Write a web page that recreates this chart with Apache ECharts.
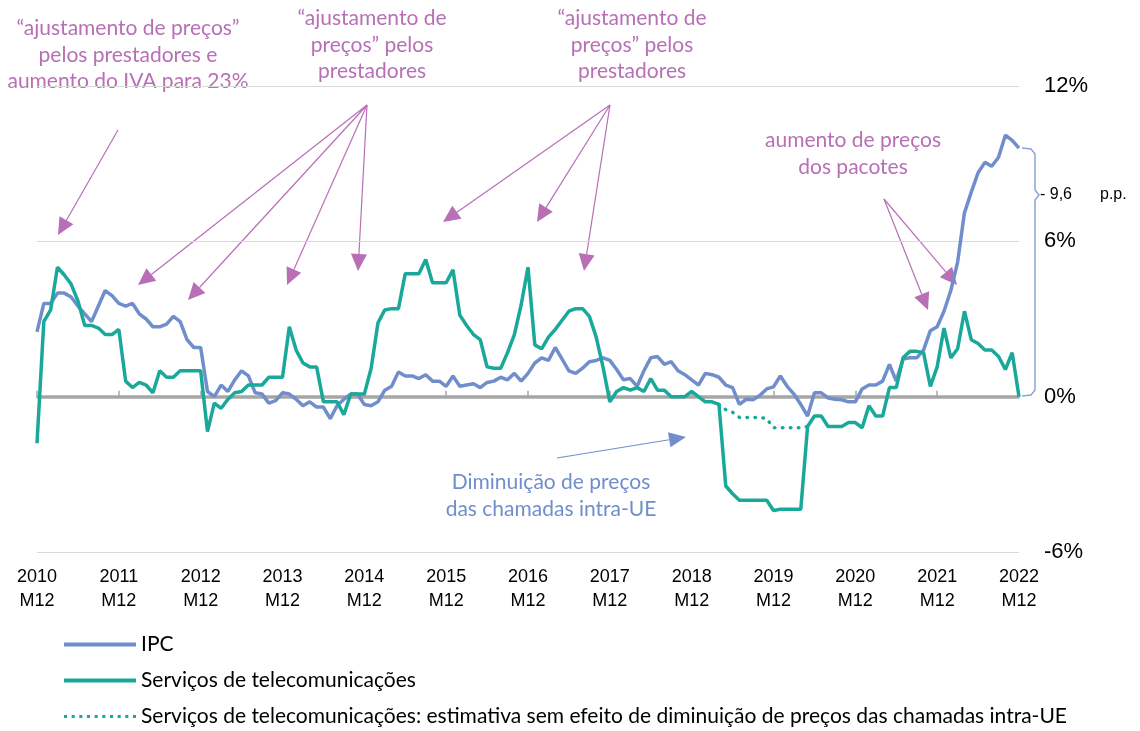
<!DOCTYPE html>
<html>
<head>
<meta charset="utf-8">
<script src="https://cdn.jsdelivr.net/npm/echarts@6.0.0/dist/echarts.min.js"></script>
<style>
  html, body { margin: 0; padding: 0; background: #fff; }
  #main { width: 1140px; height: 731px; }
</style>
</head>
<body>
<div id="main"></div>
<script>
// meses: 2010 M12 .. 2022 M12
var categories = [];
for (var y = 2010; y <= 2022; y++) {
  for (var m = 1; m <= 12; m++) {
    if (y === 2010 && m < 12) continue;
    categories.push(y + ' M' + (m < 10 ? '0' + m : m));
  }
}

// taxa de variação homóloga (%)
var ipc = [
  2.5, 3.6, 3.6, 4.0, 4.0, 3.85, 3.5, 3.2, 2.9, 3.5, 4.1, 3.9,
  3.6, 3.5, 3.6, 3.2, 3.0, 2.7, 2.7, 2.8, 3.1, 2.9, 2.2, 1.9,
  1.9, 0.2, 0.0, 0.45, 0.2, 0.65, 1.0, 0.8, 0.15, 0.1, -0.25, -0.15,
  0.15, 0.1, -0.1, -0.35, -0.2, -0.4, -0.4, -0.85, -0.35, -0.1, 0.1, 0.1,
  -0.3, -0.35, -0.2, 0.25, 0.4, 0.95, 0.8, 0.8, 0.7, 0.85, 0.6, 0.6,
  0.4, 0.8, 0.4, 0.45, 0.5, 0.35, 0.55, 0.6, 0.75, 0.65, 0.9, 0.6,
  0.9, 1.3, 1.5, 1.4, 1.9, 1.45, 1.0, 0.9, 1.1, 1.35, 1.4, 1.5,
  1.4, 1.05, 0.65, 0.7, 0.4, 1.0, 1.5, 1.55, 1.25, 1.35, 1.0, 0.85,
  0.65, 0.45, 0.9, 0.85, 0.75, 0.45, 0.35, -0.3, -0.1, -0.12, 0.05, 0.3,
  0.38, 0.8, 0.4, 0.1, -0.3, -0.75, 0.15, 0.15, -0.05, -0.1, -0.12, -0.2,
  -0.2, 0.3, 0.45, 0.45, 0.6, 1.25, 0.6, 1.45, 1.5, 1.5, 1.8, 2.55,
  2.7, 3.3, 4.1, 5.2, 7.1, 7.9, 8.65, 9.05, 8.9, 9.25, 10.1, 9.9, 9.6
];

var telecom = [
  -1.8, 2.9, 3.35, 5.0, 4.7, 4.35, 3.7, 2.75, 2.75, 2.65, 2.4, 2.4,
  2.6, 0.6, 0.35, 0.55, 0.45, 0.15, 1.0, 0.75, 0.75, 1.0, 1.0, 1.0,
  1.0, -1.35, -0.25, -0.45, -0.1, 0.15, 0.2, 0.45, 0.45, 0.45, 0.75, 0.75,
  0.75, 2.7, 1.8, 1.3, 1.15, 1.15, -0.2, -0.2, -0.2, -0.7, 0.1, 0.1,
  0.1, 1.1, 2.85, 3.35, 3.4, 3.4, 4.75, 4.75, 4.75, 5.3, 4.4, 4.4,
  4.4, 4.9, 3.15, 2.75, 2.4, 2.2, 1.15, 1.1, 1.1, 1.7, 2.4, 3.55,
  5.0, 2.0, 1.85, 2.3, 2.6, 2.95, 3.3, 3.4, 3.4, 3.1, 2.3, 1.15,
  -0.2, 0.2, 0.35, 0.25, 0.35, 0.2, 0.7, 0.25, 0.25, 0.0, 0.0, 0.0,
  0.2, 0.0, -0.2, -0.2, -0.3, -3.45, -3.75, -4.0, -4.0, -4.0, -4.0, -4.0,
  -4.4, -4.35, -4.35, -4.35, -4.35, -1.15, -0.75, -0.75, -1.15, -1.15, -1.15, -1.0,
  -1.0, -1.2, -0.35, -0.75, -0.75, 0.35, 0.35, 1.5, 1.75, 1.75, 1.7, 0.4,
  1.15, 2.65, 1.5, 1.85, 3.3, 2.2, 2.05, 1.8, 1.8, 1.55, 1.05, 1.7, 0.0
];

// estimativa sem efeito intra-UE: 2019 M04 .. 2020 M05
var estimStart = 100;
var estimValues = [-0.3, -0.5, -0.6, -0.8, -0.8, -0.8, -0.8, -0.85, -1.2, -1.2, -1.2, -1.2, -1.2, -1.15];

var yTicks = [-6, 0, 6, 12];

var names = [
  'IPC',
  'Serviços de telecomunicações',
  'Serviços de telecomunicações: estimativa sem efeito de diminuição de preços das chamadas intra-UE'
];

var estim = categories.map(function () { return null; });
for (var k = 0; k < estimValues.length; k++) {
  estim[estimStart + k] = estimValues[k];
}

var BLUE = '#6f8ecb';
var TEAL = '#19a89a';
var PURPLE = '#b86fb6';

var chart = echarts.init(document.getElementById('main'));

// seta simples (linha + ponta triangular)
function arrow(x1, y1, x2, y2, color, len, half) {
  var a = Math.atan2(y2 - y1, x2 - x1);
  var bx = x2 - len * Math.cos(a), by = y2 - len * Math.sin(a);
  var px = -Math.sin(a) * half, py = Math.cos(a) * half;
  return [
    { type: 'line', silent: true, shape: { x1: x1, y1: y1, x2: bx, y2: by },
      style: { stroke: color, lineWidth: 1.2 } },
    { type: 'polygon', silent: true, shape: { points: [[x2, y2], [bx + px, by + py], [bx - px, by - py]] },
      style: { fill: color } }
  ];
}

function label(text, x, y, color) {
  return {
    type: 'text', silent: true,
    style: {
      text: text, x: x, y: y, textAlign: 'center', textVerticalAlign: 'top',
      fill: color, font: '21px Lato', lineHeight: 26.5
    }
  };
}

// icone pontilhado da legenda
var dotIcon = 'path://';
for (var d = 0; d < 10; d++) {
  dotIcon += 'M' + (d * 7.5) + ',0h3v3h-3z';
}

var graphics = [
  label('“ajustamento de preços”\npelos prestadores e\naumento do IVA para 23%', 128, 15, PURPLE),
  label('“ajustamento de\npreços” pelos\nprestadores', 372, 5, PURPLE),
  label('“ajustamento de\npreços” pelos\nprestadores', 632, 5, PURPLE),
  label('aumento de preços\ndos pacotes', 853, 127, PURPLE),
  label('Diminuição de preços\ndas chamadas intra-UE', 551, 469, BLUE),
  {
    type: 'polyline', silent: true,
    shape: { points: [[1022, 148], [1031, 149], [1035, 154], [1035, 190], [1039, 195], [1035, 200], [1035, 390], [1031, 395], [1022, 396]] },
    style: { stroke: '#8aa5d8', lineWidth: 1.5, fill: null }
  },
  {
    type: 'text', silent: true,
    style: { text: '- 9,6', x: 1040, y: 195, textVerticalAlign: 'middle', fill: '#000', font: '16px "Liberation Sans"' }
  },
  {
    type: 'text', silent: true,
    style: { text: 'p.p.', x: 1100, y: 195, textVerticalAlign: 'middle', fill: '#000', font: '16px "Liberation Sans"' }
  }
];

var purpleArrows = [
  [118, 130, 58, 235],
  [367, 105, 138, 285],
  [367, 105, 188, 300],
  [367, 105, 287, 285],
  [367, 105, 358, 271],
  [610, 105, 443, 222],
  [610, 105, 537, 222],
  [610, 105, 584, 271],
  [884, 199, 928, 310],
  [884, 199, 957, 285]
];
purpleArrows.forEach(function (p) {
  graphics = graphics.concat(arrow(p[0], p[1], p[2], p[3], PURPLE, 17, 8));
});
graphics = graphics.concat(arrow(557, 458, 686, 437, BLUE, 17, 7.5));

var option = {
  animation: false,
  backgroundColor: '#fff',
  grid: { left: 37, right: 121, top: 86, bottom: 179 },
  legend: {
    orient: 'vertical',
    left: 64,
    top: 634,
    padding: 0,
    itemWidth: 72,
    itemHeight: 4,
    itemGap: 15,
    textStyle: { fontFamily: 'Lato', fontSize: 21, color: '#000' },
    data: [
      { name: names[0], icon: 'rect' },
      { name: names[1], icon: 'rect' },
      { name: names[2], icon: dotIcon }
    ]
  },
  xAxis: {
    type: 'category',
    data: categories,
    boundaryGap: false,
    axisLine: { lineStyle: { color: '#a6a6a6', width: 2 } },
    axisTick: { interval: 11, inside: true, length: 6, lineStyle: { color: '#a6a6a6', width: 1.5 } },
    axisLabel: {
      interval: 11,
      formatter: function (v) { return v.replace(' ', '\n'); },
      color: '#000', fontFamily: 'Liberation Sans', fontSize: 18, lineHeight: 24, margin: 13
    },
    splitLine: { show: false }
  },
  yAxis: {
    type: 'value',
    position: 'right',
    min: yTicks[0],
    max: yTicks[yTicks.length - 1],
    interval: 6,
    axisLine: { show: false },
    axisTick: { show: false },
    splitLine: { lineStyle: { color: '#d9d9d9', width: 1 } },
    axisLabel: { formatter: '{value}%', color: '#000', fontFamily: 'Liberation Sans', fontSize: 22, margin: 25 }
  },
  series: [
    {
      name: names[0], type: 'line', data: ipc, symbol: 'none', z: 3,
      color: BLUE, lineStyle: { width: 3.5, color: BLUE },
      markLine: {
        silent: true, symbol: 'none', z: 1,
        label: { show: false },
        lineStyle: { color: '#a6a6a6', width: 3.5, type: 'solid' },
        data: [{ yAxis: 0 }]
      }
    },
    {
      name: names[1], type: 'line', data: telecom, symbol: 'none', z: 4,
      color: TEAL, lineStyle: { width: 3.5, color: TEAL }
    },
    {
      name: names[2], type: 'line', data: estim, symbol: 'none', z: 4, connectNulls: false,
      color: TEAL, lineStyle: { width: 3.5, color: TEAL, type: [0.5, 7.5], cap: 'round' }
    }
  ],
  graphic: graphics
};

chart.setOption(option);
</script>
</body>
</html>
